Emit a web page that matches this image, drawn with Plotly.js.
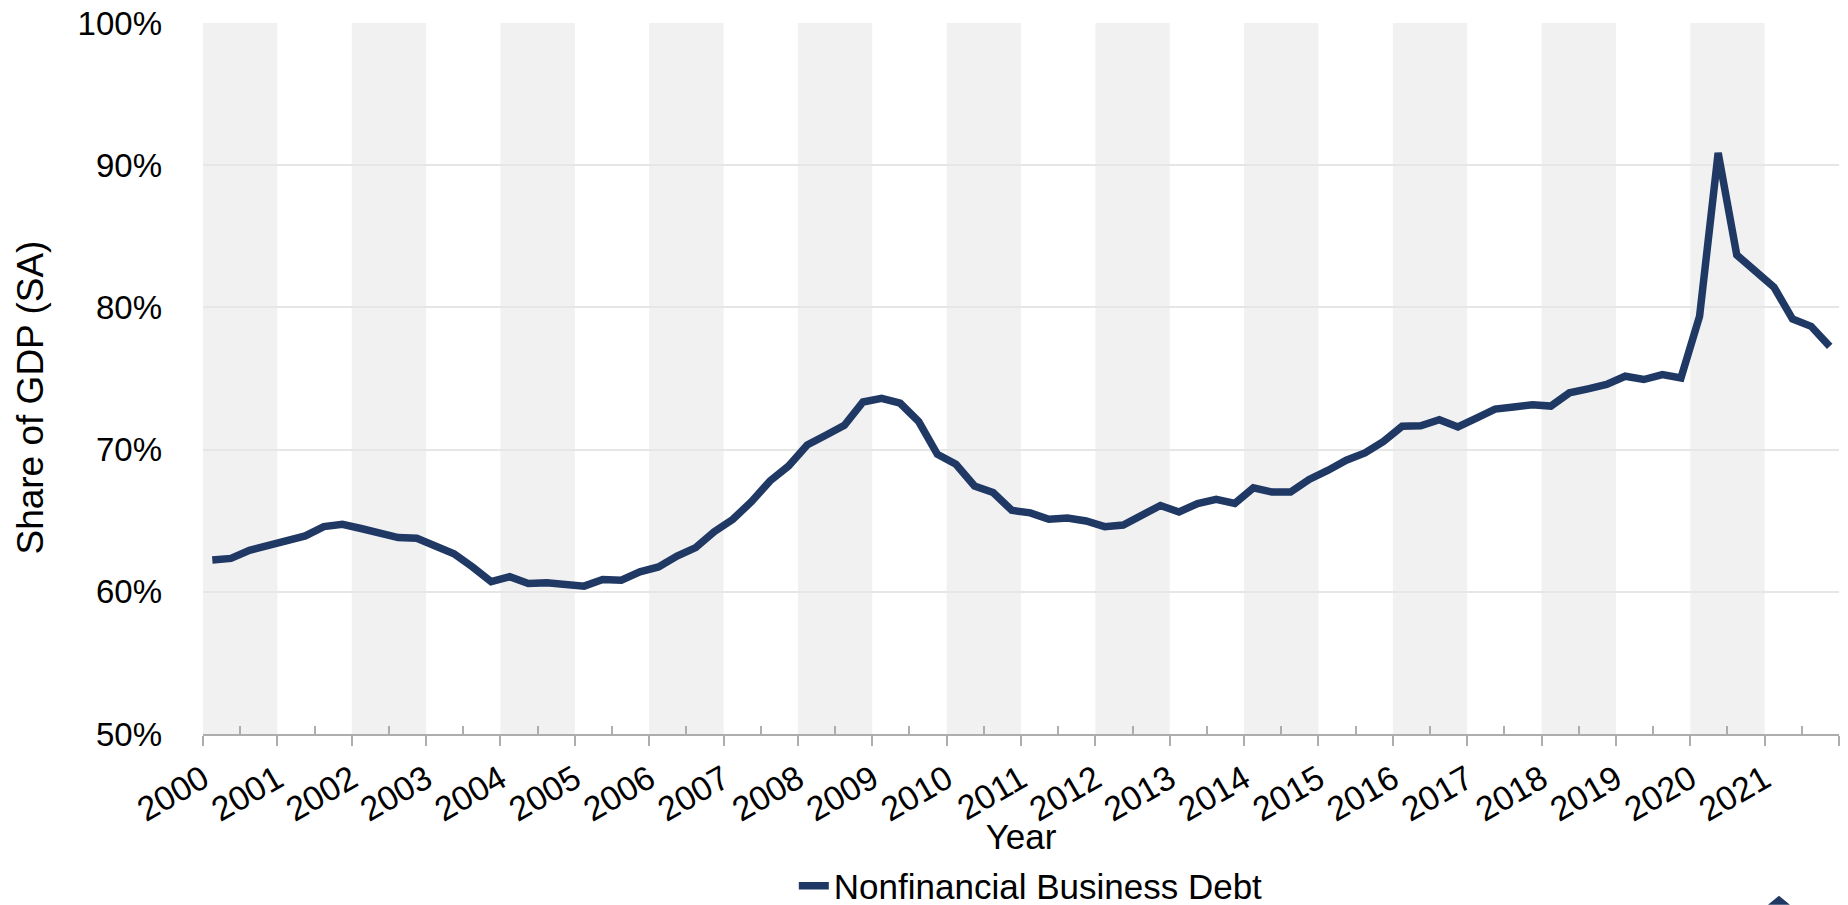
<!DOCTYPE html>
<html>
<head>
<meta charset="utf-8">
<script src="https://cdn.plot.ly/plotly-3.0.1.min.js"></script>
<style>
html,body{margin:0;padding:0;background:#ffffff;overflow:hidden}
#chart{width:1848px;height:905px}
</style>
</head>
<body>
<div id="chart"></div>
<script>
// ---- data ----
const quarters = [
  "2000-Q1","2000-Q2","2000-Q3","2000-Q4","2001-Q1","2001-Q2","2001-Q3","2001-Q4",
  "2002-Q1","2002-Q2","2002-Q3","2002-Q4","2003-Q1","2003-Q2","2003-Q3","2003-Q4",
  "2004-Q1","2004-Q2","2004-Q3","2004-Q4","2005-Q1","2005-Q2","2005-Q3","2005-Q4",
  "2006-Q1","2006-Q2","2006-Q3","2006-Q4","2007-Q1","2007-Q2","2007-Q3","2007-Q4",
  "2008-Q1","2008-Q2","2008-Q3","2008-Q4","2009-Q1","2009-Q2","2009-Q3","2009-Q4",
  "2010-Q1","2010-Q2","2010-Q3","2010-Q4","2011-Q1","2011-Q2","2011-Q3","2011-Q4",
  "2012-Q1","2012-Q2","2012-Q3","2012-Q4","2013-Q1","2013-Q2","2013-Q3","2013-Q4",
  "2014-Q1","2014-Q2","2014-Q3","2014-Q4","2015-Q1","2015-Q2","2015-Q3","2015-Q4",
  "2016-Q1","2016-Q2","2016-Q3","2016-Q4","2017-Q1","2017-Q2","2017-Q3","2017-Q4",
  "2018-Q1","2018-Q2","2018-Q3","2018-Q4","2019-Q1","2019-Q2","2019-Q3","2019-Q4",
  "2020-Q1","2020-Q2","2020-Q3","2020-Q4","2021-Q1","2021-Q2","2021-Q3","2021-Q4"
];
// Nonfinancial business debt, share of GDP (SA), percent
const debtShareOfGDP = [
  62.24, 62.35, 62.92, 63.27,  63.51, 63.93, 64.59, 64.75,
  64.45, 64.12, 63.81, 63.76,  63.27, 62.68, 61.74, 60.71,
  61.06, 60.59, 60.64, 60.47,  60.40, 60.87, 60.82, 61.41,
  61.75, 62.52, 63.11, 64.23,  65.10, 66.34, 67.80, 68.85,
  70.33, 71.01, 71.71, 73.35,  73.61, 73.26, 71.97, 69.67,
  68.97, 67.44, 66.98, 65.73,  65.55, 65.10, 65.19, 64.98,
  64.58, 64.70, 65.33, 66.07,  65.61, 66.21, 66.50, 66.21,
  67.31, 67.01, 67.01, 67.90,  68.53, 69.25, 69.77, 70.58,
  71.64, 71.68, 72.10, 71.59,  72.22, 72.85, 72.99, 73.15,
  73.06, 73.99, 74.27, 74.58,  75.16, 74.93, 75.28, 75.04,
  79.37, 90.87, 83.69, 82.57,  81.43, 79.18, 78.67, 77.26
];
const seriesName = "Nonfinancial Business Debt";
const xTitle = "Year";
const yTitle = "Share of GDP (SA)";
const yearTicks = [2000,2001,2002,2003,2004,2005,2006,2007,2008,2009,2010,
                   2011,2012,2013,2014,2015,2016,2017,2018,2019,2020,2021,2022];
const yearTickLabels = ["2000","2001","2002","2003","2004","2005","2006","2007",
                        "2008","2009","2010","2011","2012","2013","2014","2015",
                        "2016","2017","2018","2019","2020","2021",""];
const shadedYears = [2000,2002,2004,2006,2008,2010,2012,2014,2016,2018,2020];
const yTicks = [50,60,70,80,90,100];
const yTickLabels = ["50%","60%","70%","80%","90%","100%"];

// quarter label -> decimal year at mid-quarter
const xVals = quarters.map(q => {
  const [y, qq] = q.split("-Q");
  return Number(y) + (Number(qq) - 1) / 4 + 0.125;
});

const FONT = "'Liberation Sans', Arial, Helvetica, sans-serif";
const NAVY = "#1f3864";
const AXIS_GRAY = "#adadad";

const trace = {
  type: "scatter",
  mode: "lines",
  name: seriesName,
  x: xVals,
  y: debtShareOfGDP,
  line: {color: NAVY, width: 7.5},
  hoverinfo: "x+y"
};

const bands = shadedYears.map(y0 => ({
  type: "rect", xref: "x", yref: "paper",
  x0: y0, x1: y0 + 1, y0: 0, y1: 1,
  fillcolor: "#f1f1f1", line: {width: 0}, layer: "below"
}));

// small cropped logo mark in the bottom-right corner
const logo = {
  type: "path", xref: "paper", yref: "paper",
  path: "M 0.9566 -0.2400 L 0.9633 -0.2275 L 0.9700 -0.2400 Z",
  fillcolor: NAVY, line: {width: 0}, layer: "above"
};

const layout = {
  width: 1848, height: 905,
  margin: {l: 203, r: 9, t: 23, b: 171, pad: 0},
  paper_bgcolor: "#ffffff",
  plot_bgcolor: "rgba(0,0,0,0)",
  font: {family: FONT, color: "#000000", size: 33},
  showlegend: true,
  legend: {
    orientation: "h", x: 0.506, xanchor: "center", xref: "paper",
    y: 0.021, yanchor: "middle", yref: "container",
    font: {family: FONT, size: 35, color: "#000000"},
    bgcolor: "rgba(0,0,0,0)"
  },
  xaxis: {
    type: "linear",
    range: [2000, 2022],
    tickmode: "array",
    tickvals: yearTicks,
    ticktext: yearTickLabels,
    tickangle: -30,
    ticks: "outside", ticklen: 10, tickwidth: 2, tickcolor: AXIS_GRAY,
    showline: true, linecolor: AXIS_GRAY, linewidth: 2,
    showgrid: false, zeroline: false,
    tickfont: {family: FONT, size: 34, color: "#000000"},
    minor: {ticks: "inside", ticklen: 8, tickwidth: 2, tickcolor: AXIS_GRAY,
            tickmode: "linear", tick0: 2000.5, dtick: 1, showgrid: false},
    title: {text: xTitle, font: {family: FONT, size: 35, color: "#000000"}},
    automargin: false,
    fixedrange: true
  },
  xaxis2: {
    overlaying: "x", anchor: "y", side: "bottom",
    type: "linear", range: [2000, 2022],
    tickmode: "array", tickvals: yearTicks,
    ticks: "inside", ticklen: 10, tickwidth: 2, tickcolor: AXIS_GRAY,
    showticklabels: false, showline: false, showgrid: false, zeroline: false,
    fixedrange: true
  },
  yaxis: {
    range: [50, 100],
    tickmode: "array",
    tickvals: yTicks,
    ticktext: yTickLabels,
    showgrid: true, gridcolor: "#e6e6e6", gridwidth: 2,
    zeroline: false, showline: false, ticks: "",
    ticklabelstandoff: 40,
    tickfont: {family: FONT, size: 33, color: "#000000"},
    automargin: false,
    fixedrange: true
  },
  annotations: [{
    // y-axis title, placed as in the reference (slightly below the plot centre)
    text: yTitle, textangle: -90, showarrow: false,
    xref: "paper", yref: "paper", x: -0.1054, y: 0.4726,
    xanchor: "center", yanchor: "middle",
    font: {family: FONT, size: 37, color: "#000000"}
  }],
  shapes: bands.concat([logo])
};

Plotly.newPlot("chart", [trace], layout, {displayModeBar: false, staticPlot: true});
</script>
</body>
</html>
